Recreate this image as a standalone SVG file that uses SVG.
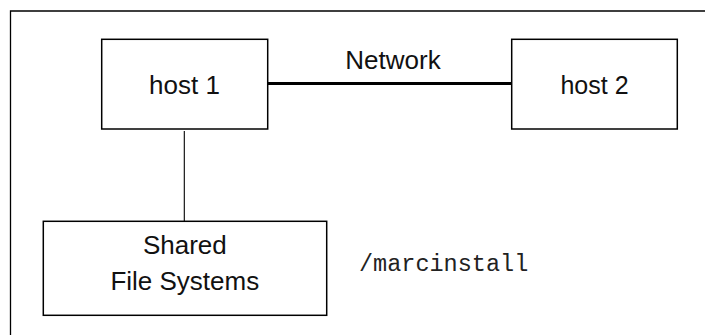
<svg xmlns="http://www.w3.org/2000/svg" width="705" height="335" viewBox="0 0 705 335">
<style>
.box{fill:#fff;stroke:#000;stroke-width:1.5}
.lbl{font-family:"Liberation Sans",Arial,sans-serif;fill:#111;text-anchor:middle}
.mono{font-family:"Liberation Mono","Courier New",monospace;fill:#222}
.frame{fill:none;stroke:#000;stroke-width:1.3}
</style>
<rect width="705" height="335" fill="#fff"/>
<path class="frame" d="M10.5 335 V11 H705"/>
<g id="connectors">
<line x1="268" y1="83.5" x2="511" y2="83.5" stroke="#000" stroke-width="2.8"/>
<line x1="184.3" y1="131" x2="184.3" y2="221" stroke="#000" stroke-width="1.1"/>
</g>
<g id="host1">
<rect class="box" x="101.7" y="39.3" width="166" height="89.7"/>
<text class="lbl" x="184.5" y="94" font-size="26">host 1</text>
</g>
<g id="network-label">
<text class="lbl" x="393" y="69.3" font-size="26">Network</text>
</g>
<g id="host2">
<rect class="box" x="511.7" y="39.3" width="165.6" height="89.7"/>
<text class="lbl" x="594.5" y="94" font-size="25">host 2</text>
</g>
<g id="shared">
<rect class="box" x="43.3" y="221.3" width="283.4" height="94"/>
<text class="lbl" x="184.8" y="254" font-size="26">Shared</text>
<text class="lbl" x="184.8" y="290" font-size="26">File Systems</text>
</g>
<g id="path-label">
<text class="mono" x="359" y="271" font-size="23.5">/marcinstall</text>
</g>
</svg>
